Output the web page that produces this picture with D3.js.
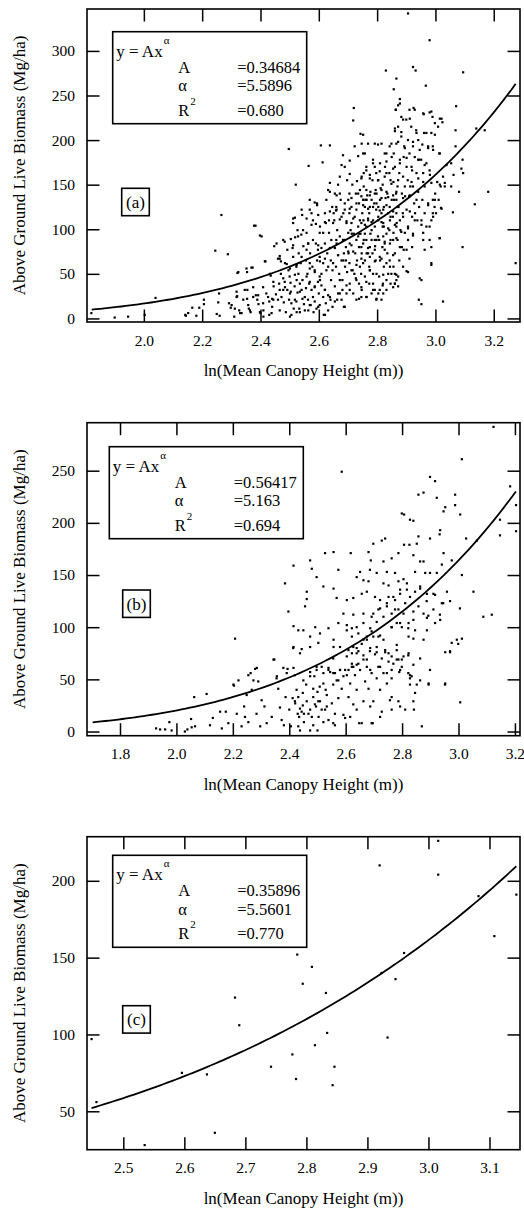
<!DOCTYPE html>
<html>
<head>
<meta charset="utf-8">
<script src="https://cdn.jsdelivr.net/npm/d3@7"></script>
<style>
  body { margin: 0; background: #fff; }
  text { font-family: "Liberation Serif", "Times New Roman", serif; fill: #000; }
</style>
</head>
<body>
<svg id="chart" width="524" height="1212"></svg>
<script>
// ---- data ----
const panelTags = ["(a)", "(b)", "(c)"];
const fitA = [0.34684, 0.56417, 0.35896];
const fitAlpha = [5.5896, 5.163, 5.5601];
const labelA = ["=0.34684", "=0.56417", "=0.35896"];
const labelAlpha = ["=5.5896", "=5.163", "=5.5601"];
const labelR2 = ["=0.680", "=0.694", "=0.770"];
const fitRange = [[1.821, 3.275], [1.703, 3.2035], [2.448, 3.144]];

const xTicksA = [2.0, 2.2, 2.4, 2.6, 2.8, 3.0, 3.2];
const yTicksA = [0, 50, 100, 150, 200, 250, 300];
const xTicksB = [1.8, 2.0, 2.2, 2.4, 2.6, 2.8, 3.0, 3.2];
const yTicksB = [0, 50, 100, 150, 200, 250];
const xTicksC = [2.5, 2.6, 2.7, 2.8, 2.9, 3.0, 3.1];
const yTicksC = [50, 100, 150, 200];

const pointsA = [
[1.82,6],[1.90,1],[1.946,2],[2.003,4],[2.04,23],[2.142,4],[2.144,3],[2.152,6],[2.166,12],[2.18,3],[2.19,12],
[2.206,16],[2.206,21],[2.245,76],[2.25,5],[2.255,18],[2.258,28],[2.26,3],[2.266,116],[2.288,72],[2.292,17],
[2.298,12],[2.31,2],[2.318,30],[2.32,25],[2.321,51],[2.327,9],[2.33,6],[2.354,52],[2.355,32],[2.354,22],
[2.36,11],[2.366,7],[2.369,57],[2.378,104],[2.384,26],[2.389,21],[2.393,16],[2.398,93],
[2.40,6],[2.41,2],[2.41,9],[2.415,64],[2.42,28],[2.43,19],[2.435,48],[2.447,81],[2.445,36],[2.44,22],[2.44,13],[2.43,4],
[2.453,27],[2.46,67],[2.466,70],[2.47,64],[2.478,32],[2.483,41],[2.48,18],[2.483,86],[2.49,61],[2.497,190],
[2.464,39],[2.472,24],[2.487,7],[2.492,32],[2.496,54],[2.47,50],[2.46,21],[2.498,21],
[2.50,47],[2.503,40],[2.504,30],[2.512,112],[2.51,79],[2.521,150],[2.519,91],[2.527,99],[2.523,58],[2.53,50],
[2.535,39],[2.541,32],[2.544,22],[2.549,16],[2.506,17],[2.514,11],[2.523,19],[2.533,11],[2.512,69],[2.531,73],
[2.538,62],[2.517,36],[2.527,29],[2.547,81],[2.54,94],[2.544,43],[2.506,4],[2.535,7],
[2.552,9],[2.543,116],[2.558,96],[2.563,84],[2.57,73],[2.565,171],[2.569,133],[2.575,118],[2.58,110],[2.59,106],
[2.594,129],[2.556,65],[2.561,50],[2.567,39],[2.575,32],[2.58,24],[2.586,19],[2.592,11],[2.597,41],[2.586,52],
[2.578,58],[2.594,65],[2.563,21],[2.572,15],[2.582,7],[2.556,34],[2.59,84],[2.597,77],[2.58,88],[2.569,62],[2.586,36],
[2.613,175],[2.607,194],[2.603,96],[2.609,79],[2.615,62],[2.603,47],[2.6,28],[2.603,15],[2.617,4],[2.621,118],
[2.626,133],[2.632,144],[2.638,152],[2.624,107],[2.635,96],[2.643,88],[2.629,73],[2.641,65],[2.647,54],[2.609,37],
[2.621,32],[2.632,26],[2.64,21],[2.647,13],[2.615,24],[2.624,17],[2.632,9],[2.638,194],[2.609,50],[2.626,54],
[2.642,43],[2.621,84],[2.635,110],[2.646,125],[2.603,69],[2.615,96],
[2.655,140],[2.66,125],[2.666,150],[2.672,159],[2.678,172],[2.683,183],[2.653,110],[2.663,99],[2.672,92],[2.683,88],
[2.693,80],[2.655,79],[2.666,71],[2.678,65],[2.69,58],[2.697,52],[2.659,58],[2.67,50],[2.681,43],[2.695,37],
[2.655,36],[2.666,28],[2.678,21],[2.686,13],[2.663,21],[2.695,28],[2.689,170],[2.697,155],[2.675,133],[2.689,122],
[2.695,109],[2.678,114],[2.701,96],[2.66,88],[2.686,73],[2.672,43],[2.693,65],[2.659,121],[2.701,133],[2.651,118],[2.681,32],
[2.72,236],[2.718,222],[2.706,177],[2.723,193],[2.735,182],[2.743,207],[2.747,196],[2.706,162],[2.715,150],[2.727,140],
[2.738,129],[2.747,159],[2.705,118],[2.712,107],[2.72,95],[2.729,88],[2.738,80],[2.747,73],[2.706,84],[2.718,75],
[2.731,65],[2.741,58],[2.705,62],[2.716,54],[2.727,45],[2.738,39],[2.747,32],[2.706,39],[2.718,28],[2.729,21],
[2.738,22],[2.712,125],[2.723,114],[2.735,103],[2.743,95],[2.705,140],[2.731,154],[2.741,144],[2.725,73],[2.713,95],
[2.722,50],[2.737,95],[2.749,118],[2.702,73],[2.709,99],[2.745,50],[2.729,129],
[2.758,185],[2.769,196],[2.786,178],[2.763,166],[2.775,157],[2.792,170],[2.754,148],[2.766,138],[2.781,133],[2.795,144],
[2.758,125],[2.773,118],[2.786,110],[2.797,122],[2.753,110],[2.763,103],[2.777,95],[2.792,88],[2.754,88],[2.769,79],
[2.784,73],[2.795,65],[2.758,65],[2.773,58],[2.786,50],[2.758,47],[2.773,39],[2.792,32],[2.797,21],[2.763,24],
[2.781,28],[2.753,133],[2.784,155],[2.797,163],[2.763,88],[2.781,99],[2.79,129],[2.769,110],[2.793,81],[2.777,142],
[2.754,163],[2.775,69],[2.761,133],[2.792,196],
[2.83,278],[2.815,196],[2.832,185],[2.843,193],[2.81,174],[2.827,170],[2.842,163],[2.804,155],[2.819,150],[2.835,140],
[2.846,155],[2.81,133],[2.823,125],[2.838,118],[2.804,110],[2.819,103],[2.832,95],[2.846,88],[2.807,88],[2.818,80],
[2.835,73],[2.81,65],[2.823,58],[2.838,50],[2.807,47],[2.819,37],[2.832,32],[2.815,21],[2.804,28],[2.846,114],
[2.829,135],[2.812,146],[2.85,133],[2.842,99],[2.826,86],[2.843,65],[2.815,118],[2.832,163],[2.804,125],[2.823,103],
[2.85,181],[2.82,39],[2.846,39],
[2.866,269],[2.857,257],[2.878,246],[2.872,239],[2.864,234],[2.889,223],[2.872,215],[2.861,210],[2.883,204],[2.866,196],
[2.893,193],[2.857,185],[2.878,178],[2.891,181],[2.861,170],[2.876,163],[2.889,159],[2.856,153],[2.87,148],[2.885,140],
[2.896,137],[2.858,133],[2.873,125],[2.888,118],[2.854,114],[2.867,107],[2.88,99],[2.895,96],[2.856,96],[2.87,88],
[2.885,80],[2.861,73],[2.876,65],[2.889,58],[2.856,58],[2.866,49],[2.861,39],[2.872,36],[2.891,77],[2.878,110],[2.865,140],
[2.906,342],[2.932,278],[2.923,282],[2.911,234],[2.925,236],[2.9,223],[2.917,215],[2.934,211],[2.906,200],[2.923,193],
[2.941,200],[2.911,185],[2.929,181],[2.943,178],[2.901,170],[2.92,166],[2.935,163],[2.905,155],[2.923,148],[2.941,142],
[2.91,137],[2.927,129],[2.901,122],[2.92,114],[2.938,110],[2.906,103],[2.923,95],[2.906,88],[2.92,80],[2.911,67],
[2.901,53],[2.946,45],[2.943,21],[2.952,16],[2.93,118],[2.944,125],[2.914,148],
[2.98,312],[2.967,261],[2.958,230],[2.98,231],[2.99,226],[2.961,208],[2.986,208],[2.955,195],[2.975,193],[2.991,193],
[2.951,178],[2.969,174],[2.958,163],[2.98,166],[2.963,148],[2.986,152],[2.955,133],[2.975,129],[2.991,133],[2.963,118],
[2.986,110],[2.969,103],[2.958,96],[2.98,88],[2.963,77],[2.986,60],[2.952,110],[2.991,118],[2.997,125],
[3.009,215],[3.021,224],[3.013,185],[3.038,172],[3.026,159],[3.006,153],[3.018,148],[2.999,140],[3.011,133],[3.019,124],
[3.002,118],[3.014,90],[3.026,19],[3.054,174],[3.062,161],[3.071,238],[3.069,211],[3.069,193],[3.06,119],[3.081,142],
[3.089,168],[3.095,163],[3.093,178],[3.093,80],[3.095,276],[3.032,152],[3.054,148],
[3.135,128],[3.14,213],[3.169,211],[3.181,142],[3.275,62],
[2.638,142],[2.661,138],[2.672,140],[2.689,129],[2.712,135],[2.735,140],[2.746,137],[2.764,133],[2.775,138],[2.798,140],
[2.815,135],[2.832,142],[2.855,138],[2.866,133],[2.594,127],[2.586,130],[2.569,122],[2.541,122],[2.518,113],[2.512,107],
[2.558,112],[2.598,116],[2.638,120],[2.661,122],[2.684,118],[2.706,123],[2.729,122],[2.752,127],[2.769,123],[2.786,125],
[2.809,121],[2.832,127],[2.855,120],[2.872,125],[2.383,104],[2.404,92],[2.455,84],[2.478,88],[2.504,89],[2.529,92],
[2.546,99],[2.575,105],[2.604,103],[2.621,108],[2.649,107],[2.672,111],[2.695,107],[2.718,112],[2.741,110],[2.758,105],
[2.781,108],[2.804,114],[2.821,107],[2.844,110],[2.866,103],
[2.417,64],[2.466,67],[2.484,62],[2.501,56],[2.524,60],[2.541,69],[2.558,77],[2.569,56],[2.586,54],[2.604,64],
[2.621,67],[2.632,58],[2.649,62],[2.666,71],[2.684,65],[2.701,75],[2.712,54],[2.729,60],[2.746,67],[2.764,73],
[2.775,54],[2.792,64],[2.809,69],[2.826,77],[2.844,58],[2.861,50],[2.492,77],[2.512,82],[2.564,84],[2.598,82],
[2.638,79],[2.661,84],[2.689,88],[2.712,82],[2.735,92],[2.752,84],[2.775,80],[2.798,88],[2.821,92],[2.844,84],
[2.866,90],[2.324,52],[2.352,56],[2.373,57],[2.432,50],
[2.318,24],[2.341,21],[2.358,15],[2.375,24],[2.392,26],[2.409,17],[2.426,24],[2.444,21],[2.466,32],[2.484,35],
[2.501,28],[2.518,21],[2.535,30],[2.552,24],[2.569,15],[2.586,35],[2.604,43],[2.621,32],[2.638,24],[2.655,19],
[2.672,28],[2.689,13],[2.706,32],[2.729,43],[2.746,35],[2.764,24],[2.786,39],[2.809,32],[2.832,43],[2.855,35],
[2.872,47],[2.312,11],[2.335,6],[2.364,9],[2.398,7],[2.438,6],[2.466,9],[2.501,2],[2.524,7],[2.564,9],
[2.598,13],[2.621,4],[2.301,15],[2.478,45],[2.524,43],[2.569,41],[2.558,47],[2.518,49],[2.444,41],[2.409,35],
[2.375,35],[2.346,32],
[2.878,241],[2.864,234],[2.883,226],[2.912,224],[2.929,234],[2.96,229],[2.986,232],[3.015,224],[3.024,220],[2.998,219],
[2.861,213],[2.883,209],[2.935,208],[2.969,208],[2.998,206],[2.752,206],[2.803,195],[2.826,185],[2.849,196],[2.872,198],
[2.895,191],[2.923,198],[2.946,189],[2.975,191],[2.992,189],[3.015,185],[2.752,185],[2.763,170],[2.786,174],[2.809,165],
[2.832,176],[2.855,168],[2.878,174],[2.901,180],[2.918,170],[2.941,178],[2.963,172],[2.981,161],[2.746,157],[2.775,161],
[2.803,155],[2.826,159],[2.849,151],[2.872,155],[2.895,148],[2.918,153],[2.941,157],[2.958,153],[3.015,150],[3.032,148],
[2.763,144],[2.792,140],[2.815,144],[2.838,136],[2.866,142],[2.889,135],[2.912,138],[2.935,133],[2.975,127],[2.998,133],
[3.021,123],[2.752,133],[2.775,125],[2.798,129],[2.821,122],[2.843,125],[2.866,118],[2.889,114],[2.912,120],[2.929,110],
[2.952,105],[2.98,103],[2.992,114],[2.746,107],[2.769,112],[2.792,103],[2.815,108],[2.838,101],[2.861,105],[2.883,97],
[2.906,101],[2.923,93],[2.958,88],[2.986,80],[3.015,90],[2.758,95],[2.781,88],[2.803,92],[2.826,84],[2.855,88],
[2.878,80],[2.901,77],[2.746,80],[2.769,73],[2.792,77],[2.815,67],[2.832,62],[2.855,71],[2.752,62],[2.775,54],
[2.798,50],[2.821,49],[2.849,50],[2.866,43],[2.763,41],[2.786,32],[2.798,22],[2.821,28],[2.861,39],[2.906,52],
[2.952,43],[2.986,62],[2.746,24]
];

const pointsB = [
[3.124,292],[2.586,249],[3.012,261],[2.899,244],[2.917,240],[2.876,229],[2.858,227],[2.923,224],[2.988,227],[3.006,208],
[2.988,217],[2.953,215],[2.947,211],[2.799,209],[2.807,208],[2.828,203],[2.84,202],[2.935,193],[2.933,189],[2.858,187],
[2.899,185],[2.74,185],[2.728,183],[2.698,180],[3.027,185],[3.065,183],[3.147,188],[3.147,203],[3.183,235],[3.204,217],
[3.204,192],[2.807,179],[2.826,179],[2.852,180],[2.681,172],[2.527,171],[2.557,172],[2.618,171],[2.474,164],[2.48,156],
[2.689,164],[2.734,163],[2.763,166],[2.787,171],[2.84,169],[2.864,163],[2.876,163],[2.947,171],[2.976,164],[2.415,159],
[2.385,142],[2.574,155],[2.651,153],[2.686,155],[2.71,152],[2.746,153],[2.775,152],[2.846,153],[2.882,152],[2.899,152],
[2.923,152],[2.941,160],[3.012,150],[2.497,148],[2.521,139],[2.557,137],[2.639,148],[2.663,145],[2.681,144],[2.734,142],
[2.752,140],[2.787,144],[2.805,146],[2.462,134],[2.462,127],[2.456,120],[2.568,128],[2.604,126],[2.627,128],[2.657,132],
[2.675,134],[2.704,129],[2.722,126],[2.752,129],[2.775,126],[2.793,132],[2.817,136],[2.864,137],[2.888,132],[2.917,131],
[2.959,134],[3.053,134],[2.397,115],[2.415,101],[2.592,113],[2.627,112],[2.663,113],[2.692,110],[2.716,117],[2.746,120],
[2.775,117],[2.805,113],[2.84,115],[2.876,113],[2.888,109],[2.858,120],[2.911,117],[2.935,107],[3.005,118],[3.088,110],
[3.118,112],[2.97,125],[2.941,123],[2.432,97],[2.45,97],[2.474,91],[2.492,100],[2.509,94],[2.539,99],[2.557,88],
[2.574,104],[2.604,102],[2.622,99],[2.645,94],[2.663,88],[2.675,91],[2.692,96],[2.716,91],[2.734,88],[2.763,100],
[2.781,104],[2.799,100],[2.823,104],[2.846,97],[2.888,97],[2.823,91],[2.84,89],[2.976,85],[2.97,77],[2.994,88],
[2.208,89],[2.344,69],[2.415,81],[2.438,75],[2.444,79],[2.474,81],[2.503,85],[2.557,81],[2.58,81],[2.61,78],
[2.627,81],[2.639,75],[2.663,73],[2.686,77],[2.71,81],[2.74,78],[2.763,72],[2.787,69],[2.805,72],[2.823,75],
[2.781,83],[2.953,76],[2.379,61],[2.391,56],[2.415,61],[2.42,54],[2.45,49],[2.474,57],[2.497,62],[2.521,56],
[2.539,59],[2.562,56],[2.58,59],[2.604,54],[2.622,62],[2.639,64],[2.675,62],[2.692,56],[2.722,62],[2.746,56],
[2.763,59],[2.79,57],[2.828,54],[2.828,51],[2.852,45],[2.894,46],[2.953,46],[2.202,45],[2.22,49],[2.255,54],
[2.273,49],[2.285,61],[2.356,53],
[1.928,3],[1.942,2],[1.96,2],[1.975,9],[1.983,1],[2.03,0],[2.039,2],[2.054,4],[2.066,5],[2.052,12],[2.063,33],
[2.107,36],[2.119,6],[2.129,13],[2.155,19],[2.161,3],[2.175,19],[2.184,8],[2.214,17],[2.204,44],[2.231,5],[2.24,24],
[2.243,14],[2.249,35],[2.255,9],[2.263,56],[2.267,40],[2.279,60],[2.284,17],[2.29,48],[2.297,5],[2.302,30],[2.312,24],
[2.32,8],[2.338,14],[2.347,69],[2.355,51],[2.361,41],[2.367,23],[2.373,11],[2.381,6],[2.387,33],[2.394,60],[2.4,21],
[2.406,5],[2.412,32],[2.414,80],[2.42,29],[2.426,40],[2.43,17],[2.435,14],[2.438,1],[2.444,19],[2.448,25],[2.452,9],
[2.46,45],[2.462,29],[2.468,17],[2.474,1],[2.48,14],[2.485,33],[2.489,53],[2.495,24],[2.5,38],[2.504,14],[2.509,29],
[2.515,62],[2.521,46],[2.527,21],[2.533,35],[2.539,11],[2.545,57],[2.551,27],[2.556,70],[2.562,17],[2.568,49],[2.574,32],
[2.586,41],[2.592,16],[2.598,59],[2.604,72],[2.61,33],[2.616,46],[2.622,65],[2.627,26],[2.633,54],[2.639,40],[2.645,77],
[2.651,59],[2.657,8],[2.663,29],[2.669,48],[2.675,69],[2.681,41],[2.687,59],[2.692,8],[2.698,29],[2.704,74],[2.71,51],
[2.716,62],[2.722,40],[2.728,19],[2.734,56],[2.74,76],[2.746,46],[2.752,67],[2.757,30],[2.763,51],[2.769,65],[2.781,78],
[2.787,29],[2.793,59],[2.799,69],[2.811,21],[2.822,73],[2.828,45],[2.834,53],[2.84,29],[2.846,37],[2.87,5],[2.864,70],
[2.876,88],[2.894,45],[2.899,59],[2.952,45],[2.97,76],[2.999,84],[3.006,28],[3.012,89],[2.5,1],[2.562,6],[2.598,13],
[2.648,8],[2.696,8],[2.763,21],[2.842,21],
[2.421,27],[2.438,22],[2.452,17],[2.474,21],[2.491,26],[2.503,29],[2.515,21],[2.533,24],[2.432,33],[2.448,37],
[2.485,41],[2.508,43],[2.529,40],[2.556,45],[2.574,49],[2.592,53],[2.61,59],[2.627,62],[2.645,65],[2.663,69],
[2.58,59],[2.556,56],[2.539,61],[2.497,59],[2.474,53],[2.622,75],[2.639,80],[2.657,84],[2.675,88],[2.698,91],
[2.722,92],[2.687,80],[2.71,76],[2.728,70],[2.752,75],[2.781,69],[2.799,62],[2.822,56],[2.84,64],[2.864,49],
[2.604,97],[2.622,91],[2.639,100],[2.663,104],[2.687,99],[2.71,105],[2.734,110],[2.763,113],[2.787,117],[2.811,123],
[2.828,129],[2.846,134],[2.864,139],[2.769,129],[2.793,136],[2.817,142],[2.746,123],[2.722,118],[2.698,113],[2.763,100],
[2.793,104],[2.822,99],[2.84,107],[2.887,125],[2.911,132],[2.893,111],[2.917,104],[2.946,123],[2.934,112],[2.432,5],
[2.485,6],[2.521,9],[2.556,8],[2.616,14],[2.639,21],[2.687,24],[2.722,14],[2.763,33],[2.793,24]
];

const pointsC = [
[2.448,97],[2.456,56],[2.535,28],[2.596,75],[2.637,74],[2.65,36],[2.683,124],[2.69,106],[2.742,79],[2.777,87],
[2.783,71],[2.785,152],[2.794,133],[2.809,144],[2.814,93],[2.832,127],[2.834,101],[2.843,67],[2.846,79],[2.92,210],
[2.923,140],[2.933,98],[2.946,136],[2.96,153],[3.016,226],[3.016,204],[3.082,190],[3.108,164],[3.144,191]
];

// ---- layout ----
const plotLeft = 87, plotW = 433, plotH = 313, tickLen = 12.5;
const panels = [
  {top: 9,     xDom: [1.805, 3.29],  yDom: [-4, 347],   xTicks: xTicksA, yTicks: yTicksA, pts: pointsA, leg: [112.7, 22.7], tag: [121.7, 179.3]},
  {top: 422.7, xDom: [1.683, 3.218], yDom: [-4, 296],   xTicks: xTicksB, yTicks: yTicksB, pts: pointsB, leg: [109.3, 24],   tag: [122.7, 167.3]},
  {top: 836.7, xDom: [2.4405, 3.15], yDom: [25, 228.7], xTicks: xTicksC, yTicks: yTicksC, pts: pointsC, leg: [112.7, 18.6], tag: [122.7, 169]}
];

const svg = d3.select("#chart");
svg.append("rect").attr("width", 524).attr("height", 1212).attr("fill", "#fff");

panels.forEach((p, i) => {
  const g = svg.append("g").attr("transform", `translate(${plotLeft}, ${p.top})`);
  const x = d3.scaleLinear().domain(p.xDom).range([0, plotW]);
  const y = d3.scaleLinear().domain(p.yDom).range([plotH, 0]);

  // axes, ticks pointing inward on all four sides
  const bottom = g.append("g").attr("transform", `translate(0, ${plotH})`)
    .call(d3.axisBottom(x).tickValues(p.xTicks).tickFormat(d3.format(".1f"))
      .tickSizeInner(-tickLen).tickSizeOuter(0).tickPadding(12.5));
  const left = g.append("g")
    .call(d3.axisLeft(y).tickValues(p.yTicks).tickFormat(d3.format("d"))
      .tickSizeInner(-tickLen).tickSizeOuter(0).tickPadding(12));
  const top = g.append("g")
    .call(d3.axisTop(x).tickValues(p.xTicks).tickFormat("").tickSizeInner(-tickLen).tickSizeOuter(0));
  const right = g.append("g").attr("transform", `translate(${plotW}, 0)`)
    .call(d3.axisRight(y).tickValues(p.yTicks).tickFormat("").tickSizeInner(-tickLen).tickSizeOuter(0));
  [bottom, left, top, right].forEach(a => {
    a.select(".domain").remove();
    a.selectAll("line").attr("stroke", "#000").attr("stroke-width", 1.5);
    a.selectAll("text").style("font-size", "15.5px").attr("fill", "#000")
      .style("font-family", '"Liberation Serif", "Times New Roman", serif');
  });

  g.append("rect").attr("width", plotW).attr("height", plotH)
    .attr("fill", "none").attr("stroke", "#000").attr("stroke-width", 1.6);

  // scatter
  const clip = "clip" + i;
  g.append("clipPath").attr("id", clip).append("rect").attr("width", plotW).attr("height", plotH);
  g.append("g").attr("clip-path", `url(#${clip})`)
    .selectAll("rect").data(p.pts).join("rect")
    .attr("x", d => x(d[0]) - 1.1).attr("y", d => y(d[1]) - 1.1)
    .attr("width", 2.2).attr("height", 2.2).attr("fill", "#000");

  // fitted power law y = A x^alpha
  const xs = d3.range(0, 101).map(k => fitRange[i][0] + (fitRange[i][1] - fitRange[i][0]) * k / 100);
  g.append("path").datum(xs)
    .attr("d", d3.line().x(d => x(d)).y(d => y(fitA[i] * Math.pow(d, fitAlpha[i]))))
    .attr("fill", "none").attr("stroke", "#000").attr("stroke-width", 1.8);

  // axis titles
  g.append("text").text("ln(Mean Canopy Height (m))")
    .attr("x", plotW / 2).attr("y", plotH + 54)
    .attr("text-anchor", "middle").style("font-size", "17px");
  g.append("text").text("Above Ground Live Biomass (Mg/ha)")
    .attr("transform", `translate(${25 - plotLeft}, ${plotH / 2}) rotate(-90)`)
    .attr("text-anchor", "middle").style("font-size", "17px");

  // legend box
  const lg = g.append("g").attr("transform", `translate(${p.leg[0] - plotLeft}, ${p.leg[1]})`);
  lg.append("rect").attr("width", 194).attr("height", 92)
    .attr("fill", "#fff").attr("stroke", "#000").attr("stroke-width", 1.6);
  const fs = "16.5px";
  lg.append("text").text("y = Ax").attr("x", 3.5).attr("y", 25).style("font-size", "17px");
  lg.append("text").text("α").attr("x", 51).attr("y", 12).style("font-size", "11px");
  lg.append("text").text("A").attr("x", 65.5).attr("y", 41).style("font-size", fs);
  lg.append("text").text(labelA[i]).attr("x", 124.5).attr("y", 41).style("font-size", fs);
  lg.append("text").text("α").attr("x", 65.5).attr("y", 59.5).style("font-size", fs);
  lg.append("text").text(labelAlpha[i]).attr("x", 124.5).attr("y", 59.5).style("font-size", fs);
  lg.append("text").text("R").attr("x", 65.5).attr("y", 84).style("font-size", fs);
  lg.append("text").text("2").attr("x", 77.5).attr("y", 73).style("font-size", "11px");
  lg.append("text").text(labelR2[i]).attr("x", 124.5).attr("y", 84).style("font-size", fs);

  // panel tag
  const tg = g.append("g").attr("transform", `translate(${p.tag[0] - plotLeft}, ${p.tag[1]})`);
  tg.append("rect").attr("width", 27.6).attr("height", 27.4)
    .attr("fill", "#fff").attr("stroke", "#000").attr("stroke-width", 1.6);
  tg.append("text").text(panelTags[i]).attr("x", 13.8).attr("y", 19.5)
    .attr("text-anchor", "middle").style("font-size", "17px");
});
</script>
</body>
</html>
